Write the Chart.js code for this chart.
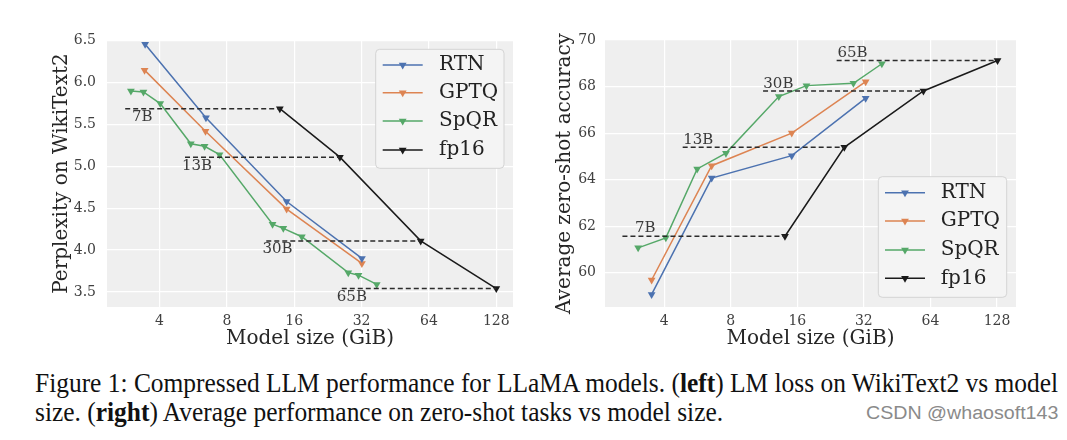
<!DOCTYPE html>
<html><head><meta charset="utf-8">
<script src="https://cdn.jsdelivr.net/npm/chart.js@4.4.0/dist/chart.umd.min.js"></script>
<style>
html,body{margin:0;padding:0;background:#fff;width:1067px;height:440px;overflow:hidden;position:relative}
canvas{position:absolute;top:0}
#c1{left:0}
#c2{left:530px}
.cap{position:absolute;left:35px;font-family:"Liberation Serif","Times New Roman",serif;font-size:27px;color:#111;white-space:nowrap;transform-origin:0 50%;line-height:1}
#wm{position:absolute;left:866px;top:404px;font-family:"Liberation Sans",Arial,sans-serif;font-size:18px;color:#8a8a8a;white-space:nowrap;transform-origin:0 50%;line-height:1}
</style></head><body>
<canvas id="c1" width="530" height="355"></canvas>
<canvas id="c2" width="537" height="355"></canvas>
<div class="cap" id="cap1" style="top:370px">Figure 1: Compressed LLM performance for LLaMA models. (<b>left</b>) LM loss on WikiText2 vs model</div>
<div class="cap" id="cap2" style="top:399px">size. (<b>right</b>) Average performance on zero-shot tasks vs model size.</div>
<div id="wm">CSDN @whaosoft143</div>
<script>
// ---------- data ----------
const xTicks = [4, 8, 16, 32, 64, 128];
const seriesNames = ['RTN', 'GPTQ', 'SpQR', 'fp16'];
const modelSizes = ['7B', '13B', '30B', '65B'];

// left: perplexity on WikiText2
const pplYTicks = [3.5, 4.0, 4.5, 5.0, 5.5, 6.0, 6.5];
const pplRtnX = [3.45, 6.45, 14.8, 32.1];
const pplRtnY = [6.46, 5.58, 4.58, 3.90];
const pplGptqX = [3.43, 6.42, 14.8, 32.1];
const pplGptqY = [6.15, 5.42, 4.49, 3.84];
const pplSpqrX = [2.98, 3.39, 4.03, 5.52, 6.36, 7.42, 12.8, 14.3, 17.3, 27.9, 31.0, 37.4];
const pplSpqrY = [5.90, 5.89, 5.75, 5.27, 5.24, 5.14, 4.31, 4.26, 4.16, 3.73, 3.70, 3.59];
const pplFp16X = [13.8, 25.6, 58.8, 128];
const pplFp16Y = [5.69, 5.11, 4.11, 3.54];
const pplRefStartX = [2.81, 5.2, 12.0, 26.1];
const pplLabelX = [3.01, 5.04, 11.54, 24.8];
const pplLabelY = [5.594, 5.00, 4.01, 3.44];

// right: average zero-shot accuracy
const accYTicks = [60, 62, 64, 66, 68, 70];
const accRtnX = [3.51, 6.56, 15.1, 32.6];
const accRtnY = [59.07, 64.07, 65.03, 67.5];
const accGptqX = [3.51, 6.56, 15.1, 32.6];
const accGptqY = [59.69, 64.6, 66.0, 68.21];
const accSpqrX = [3.05, 4.07, 5.64, 7.61, 13.2, 17.6, 28.7, 38.6];
const accSpqrY = [61.07, 61.5, 64.46, 65.14, 67.57, 68.04, 68.14, 68.98];
const accFp16X = [14.07, 26.1, 59.5, 128.7];
const accFp16Y = [61.57, 65.39, 67.81, 69.12];
const accRefStartX = [2.59, 4.85, 11.2, 24.1];
const accLabelX = [2.95, 4.88, 11.23, 24.3];
const accLabelY = [61.91, 65.71, 68.11, 69.44];

// ---------- rendering ----------
const COLORS = ['#4c72b0', '#dd8452', '#55a868', '#1a1a1a'];
const FONT = '"DejaVu Serif", serif';
function pts(xs, ys) { return xs.map((x, i) => ({x: x, y: ys[i]})); }

function build(canvasId, o) {
  const series = [[o.rtnX, o.rtnY], [o.gptqX, o.gptqY], [o.spqrX, o.spqrY], [o.fpX, o.fpY]];
  const datasets = series.map((s, i) => ({
    label: seriesNames[i], data: pts(s[0], s[1]), showLine: true,
    borderColor: COLORS[i], backgroundColor: COLORS[i], borderWidth: 1.5,
    pointStyle: 'triangle', rotation: 180, pointRadius: 4.5, pointHoverRadius: 4.5,
    pointBorderWidth: 0, order: 2, tension: 0
  }));
  o.fpX.forEach((fx, k) => {
    datasets.push({
      label: '_ref' + k, data: [{x: o.refX[k], y: o.fpY[k]}, {x: fx, y: o.fpY[k]}],
      showLine: true, borderColor: '#2b2b2b', borderWidth: 1.5, borderDash: [5, 3],
      pointRadius: 0, order: 1
    });
  });

  const bgPlugin = {
    id: 'bg' + canvasId,
    beforeDraw(chart) {
      const {ctx, chartArea: a} = chart;
      ctx.save(); ctx.fillStyle = '#efefef';
      ctx.fillRect(a.left, a.top, a.right - a.left, a.bottom - a.top); ctx.restore();
    }
  };
  const labelPlugin = {
    id: 'lab' + canvasId,
    afterDatasetsDraw(chart) {
      const {ctx} = chart; const xs = chart.scales.x, ys = chart.scales.y;
      ctx.save(); ctx.font = '15px ' + FONT; ctx.fillStyle = '#3a3a3a';
      ctx.textAlign = 'left'; ctx.textBaseline = 'middle';
      o.labX.forEach((x, k) => ctx.fillText(modelSizes[k], xs.getPixelForValue(x), ys.getPixelForValue(o.labY[k])));
      ctx.restore();
    }
  };
  const legendPlugin = {
    id: 'leg' + canvasId,
    afterDraw(chart) {
      const {ctx} = chart; const L = o.legend;
      ctx.save();
      ctx.beginPath();
      if (ctx.roundRect) ctx.roundRect(L.x0, L.y0, L.x1 - L.x0, L.y1 - L.y0, 4); else ctx.rect(L.x0, L.y0, L.x1 - L.x0, L.y1 - L.y0);
      ctx.fillStyle = 'rgba(243,243,243,0.95)'; ctx.fill();
      ctx.strokeStyle = '#d4d4d4'; ctx.lineWidth = 1; ctx.stroke();
      ctx.font = '20px ' + FONT; ctx.textAlign = 'left'; ctx.textBaseline = 'middle';
      seriesNames.forEach((n, i) => {
        const y = L.rows[i];
        ctx.strokeStyle = COLORS[i]; ctx.lineWidth = 1.5;
        ctx.beginPath(); ctx.moveTo(L.lx0, y); ctx.lineTo(L.lx1, y); ctx.stroke();
        const cx = (L.lx0 + L.lx1) / 2, r = 4.5;
        ctx.fillStyle = COLORS[i]; ctx.beginPath();
        ctx.moveTo(cx, y + r); ctx.lineTo(cx - r * 0.866, y - r / 2); ctx.lineTo(cx + r * 0.866, y - r / 2); ctx.closePath(); ctx.fill();
        ctx.fillStyle = '#222'; ctx.fillText(n, L.tx, y);
      });
      ctx.restore();
    }
  };

  return new Chart(document.getElementById(canvasId), {
    type: 'scatter',
    data: {datasets: datasets},
    plugins: [bgPlugin, labelPlugin, legendPlugin],
    options: {
      responsive: false, animation: false, devicePixelRatio: 1,
      layout: {padding: {left: 0, top: 40, right: o.padRight, bottom: 0}},
      plugins: {legend: {display: false}, tooltip: {enabled: false}},
      scales: {
        x: {
          type: 'logarithmic', min: o.xMin, max: o.xMax,
          afterBuildTicks: s => { s.ticks = xTicks.map(v => ({value: v})); },
          afterFit: s => { s.height = 48; },
          border: {display: false},
          grid: {color: '#ffffff', lineWidth: 1.2, drawTicks: false},
          ticks: {callback: v => String(v), padding: 6, color: '#404040', font: {family: FONT, size: 14}, maxRotation: 0, autoSkip: false},
          title: {display: true, text: 'Model size (GiB)', color: '#262626', font: {family: FONT, size: 20}, padding: {top: 0, bottom: 4}}
        },
        y: {
          type: 'linear', min: o.yMin, max: o.yMax,
          afterBuildTicks: s => { s.ticks = o.yTicks.map(v => ({value: v})); },
          afterFit: s => { s.width = o.yWidth; },
          border: {display: false},
          grid: {color: '#ffffff', lineWidth: 1.2, drawTicks: false},
          ticks: {callback: v => o.fmt(v), padding: o.yPad, color: '#404040', font: {family: FONT, size: 14}},
          title: {display: true, text: o.yTitle, color: '#262626', font: {family: FONT, size: 20}, padding: {top: o.yTitlePad, bottom: 0}}
        }
      }
    }
  });
}

build('c1', {
  rtnX: pplRtnX, rtnY: pplRtnY, gptqX: pplGptqX, gptqY: pplGptqY,
  spqrX: pplSpqrX, spqrY: pplSpqrY, fpX: pplFp16X, fpY: pplFp16Y,
  refX: pplRefStartX, labX: pplLabelX, labY: pplLabelY,
  yTicks: pplYTicks, fmt: v => Number(v).toFixed(1),
  xMin: 2.33, xMax: 152, yMin: 3.32, yMax: 6.51,
  yWidth: 107, yPad: 11, yTitle: 'Perplexity on WikiText2', yTitlePad: 50, padRight: 17,
  legend: {x0: 375.7, y0: 49.3, x1: 504, y1: 168.3, rows: [65, 92.7, 121, 150], lx0: 382.7, lx1: 422.7, tx: 439}
});
build('c2', {
  rtnX: accRtnX, rtnY: accRtnY, gptqX: accGptqX, gptqY: accGptqY,
  spqrX: accSpqrX, spqrY: accSpqrY, fpX: accFp16X, fpY: accFp16Y,
  refX: accRefStartX, labX: accLabelX, labY: accLabelY,
  yTicks: accYTicks, fmt: v => String(Math.round(v)),
  xMin: 2.16, xMax: 156, yMin: 58.53, yMax: 70,
  yWidth: 75, yPad: 9, yTitle: 'Average zero-shot accuracy', yTitlePad: 23, padRight: 51,
  legend: {x0: 348.3, y0: 176.7, x1: 476.7, y1: 297.3, rows: [192.7, 221, 250, 278.3], lx0: 355, lx1: 395, tx: 410.7}
});

// caption fit
(function () {
  const c1 = document.getElementById('cap1'), c2 = document.getElementById('cap2');
  const sx = 1023 / c1.scrollWidth;
  c1.style.transform = 'scaleX(' + sx + ')';
  c2.style.transform = 'scaleX(' + sx + ')';
  const wm = document.getElementById('wm');
  wm.style.transform = 'scaleX(' + (192 / wm.scrollWidth) + ')';
})();
</script>
</body></html>
